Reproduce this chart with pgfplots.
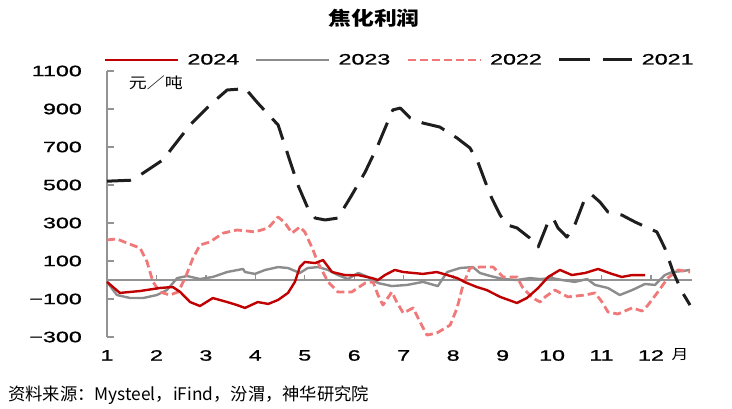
\documentclass[border=0pt]{standalone}
\usepackage{fontspec}
\usepackage{pgfplots}
\pgfplotsset{compat=1.18}
\setmainfont{Liberation Sans}
\newfontfamily\numfont[FakeStretch=1.55, FakeBold=1.2]{Liberation Sans}
\newfontfamily\cjk{Noto Sans CJK SC}
\newfontfamily\cjkwide[FakeStretch=1.2]{Noto Sans CJK SC}
\definecolor{c24}{HTML}{C00000}
\definecolor{c23}{HTML}{8C8C8C}
\definecolor{c22}{HTML}{F07878}
\definecolor{c21}{HTML}{1E1E1E}
\definecolor{axgray}{HTML}{939393}
\begin{document}
\begin{tikzpicture}
\useasboundingbox (0,0) rectangle (732pt,409pt);
\node[font=\cjkwide\bfseries\fontsize{19}{19}\selectfont] at (374pt,391pt) {焦化利润};
\node[anchor=west, inner sep=0pt, font=\cjk\fontsize{17.3}{17.3}\selectfont] at (8pt,14pt) {资料来源：Mysteel，iFind，汾渭，神华研究院};
\begin{axis}[
  at={(107pt,72pt)}, anchor=south west, scale only axis,
  width=585pt, height=266pt,
  xmin=1, xmax=12.83, ymin=-300, ymax=1100,
  axis y line=left, axis x line=bottom, axis line style={-},
  x axis line style={draw=none},
  y axis line style={draw=axgray, line width=1.4pt},
  xtick={1,2,3,4,5,6,7,8,9,10,11,12},
  xticklabels={1,2,3,4,5,6,7,8,9,10,11,12},
  ytick={-300,-100,100,300,500,700,900,1100},
  yticklabels={−300,−100,100,300,500,700,900,1100},
  tick align=inside,
  major tick length=7pt,
  ytick style={draw=axgray, line width=1.2pt},
  xtick style={draw=none},
  ticklabel style={font=\numfont\fontsize{15}{15}\selectfont, text=black},
  yticklabel style={inner sep=0pt, anchor=east, xshift=-25pt},
  xticklabel style={inner sep=0pt, anchor=north, yshift=-13pt},
  clip=false,
  legend columns=4,
  legend style={draw=none, fill=none, inner sep=0pt, outer sep=0pt,
    at={(-0.005,1.0414)}, anchor=west,
    font=\numfont\fontsize{15}{15}\selectfont,
    nodes={inner sep=0pt},
    /tikz/every odd column/.append style={column sep=8pt},
    /tikz/every even column/.append style={column sep=16pt}},
  legend cell align=left,
  legend image code/.code={\draw[#1] (0pt,0pt) -- (73pt,0pt);},
]
\addlegendimage{c24, line width=2.4pt}
\addlegendentry{2024}
\addlegendimage{c23, line width=2.4pt}
\addlegendentry{2023}
\addlegendimage{c22, line width=2.8pt, dash pattern=on 8pt off 4pt}
\addlegendentry{2022}
\addlegendimage{c21, line width=3pt, dash pattern=on 31pt off 13pt}
\addlegendentry{2021}

% zero line and small upward ticks
\addplot[axgray, line width=1.2pt, forget plot] coordinates {(1,0) (12.83,0)};
\addplot[axgray, line width=1.2pt, ycomb, forget plot] coordinates {(2,26)(3,26)(4,26)(5,26)(6,26)(7,26)(8,26)(9,26)(10,26)(11,26)(12,26)};

% 2023
\addplot[c23, line width=2.4pt, line join=round, forget plot] coordinates {
(1.00,-10)(1.20,-79)(1.47,-95)(1.73,-95)(2.01,-79)(2.21,-53)(2.42,10)(2.62,21)(2.88,5)(3.14,16)(3.43,42)(3.75,58)(3.79,42)(3.99,32)(4.20,53)(4.46,68)(4.66,63)(4.90,37)(5.06,63)(5.27,68)(5.47,53)(5.67,26)(5.87,5)(6.08,37)(6.28,16)(6.48,-16)(6.76,-32)(7.07,-26)(7.39,-10)(7.69,-32)(7.88,42)(8.14,63)(8.40,68)(8.54,37)(8.75,21)(9.01,5)(9.29,0)(9.55,10)(9.76,5)(10.00,10)(10.20,0)(10.46,-10)(10.71,5)(10.87,-26)(11.13,-42)(11.37,-79)(11.62,-53)(11.88,-21)(12.08,-26)(12.28,26)(12.43,42)(12.63,47)(12.79,53)
};
% 2022
\addplot[c22, line width=2.8pt, dash pattern=on 8pt off 4pt, line join=round, forget plot] coordinates {
(1.00,211)(1.20,216)(1.40,195)(1.67,168)(1.81,95)(1.93,-10)(2.07,-63)(2.27,-79)(2.44,-63)(2.58,10)(2.74,116)(2.88,184)(3.08,200)(3.35,247)(3.63,263)(3.83,258)(3.99,253)(4.26,274)(4.46,332)(4.60,300)(4.74,247)(4.90,279)(5.00,253)(5.15,168)(5.27,89)(5.47,-10)(5.67,-63)(5.95,-63)(6.22,-16)(6.38,-10)(6.48,-79)(6.58,-132)(6.76,-63)(6.86,-116)(6.99,-174)(7.19,-147)(7.33,-221)(7.47,-290)(7.67,-279)(7.94,-237)(8.08,-147)(8.20,-26)(8.34,63)(8.54,68)(8.81,68)(9.01,16)(9.29,16)(9.41,-42)(9.61,-95)(9.76,-116)(9.86,-89)(10.06,-53)(10.32,-89)(10.67,-79)(10.87,-68)(11.01,-116)(11.13,-168)(11.33,-179)(11.62,-147)(11.82,-163)(11.94,-132)(12.14,-63)(12.34,10)(12.55,53)(12.79,42)
};
% 2024
\addplot[c24, line width=2.4pt, line join=round, forget plot] coordinates {
(1.00,-10)(1.26,-68)(1.67,-58)(2.07,-42)(2.33,-37)(2.48,-63)(2.68,-116)(2.88,-137)(3.14,-95)(3.43,-116)(3.63,-132)(3.79,-147)(4.05,-116)(4.26,-126)(4.46,-105)(4.66,-68)(4.80,-10)(4.90,68)(5.00,95)(5.21,89)(5.37,105)(5.55,42)(5.81,26)(6.08,26)(6.36,10)(6.48,0)(6.62,26)(6.82,53)(6.99,42)(7.39,32)(7.67,42)(7.88,26)(8.08,10)(8.28,-16)(8.48,-37)(8.68,-53)(8.95,-89)(9.29,-121)(9.49,-95)(9.72,-42)(9.92,16)(10.16,53)(10.40,26)(10.67,37)(10.93,58)(11.21,32)(11.41,16)(11.62,26)(11.88,26)
};
% 2021
\addplot[c21, line width=3pt, dash pattern=on 24pt off 12pt, line join=round, forget plot] coordinates {
(1.00,520)(1.47,525)(1.57,535)(2.13,632)(2.68,816)(3.08,921)(3.43,1000)(3.69,1005)(3.79,1010)(4.05,931)(4.46,816)(4.66,658)(4.86,500)(5.06,379)(5.21,326)(5.41,316)(5.67,326)(5.95,447)(6.22,568)(6.48,710)(6.76,884)(6.78,895)(6.93,905)(7.13,853)(7.39,826)(7.73,805)(8.08,747)(8.34,695)(8.50,621)(8.75,447)(8.95,342)(9.09,290)(9.29,274)(9.55,221)(9.72,174)(9.92,305)(10.02,326)(10.12,274)(10.30,226)(10.46,290)(10.67,432)(10.81,447)(10.97,410)(11.13,358)(11.41,342)(11.68,305)(11.94,274)(12.12,253)(12.28,168)(12.45,42)(12.63,-63)(12.79,-132)
};
\node[anchor=west, inner sep=0pt, font=\cjkwide\fontsize{15}{15}\selectfont] at (axis description cs:0.037,0.955) {元／吨};
\node[anchor=north west, inner sep=0pt, font=\cjkwide\fontsize{14}{14}\selectfont] at (axis description cs:0.965,-0.043) {月};
\end{axis}
\end{tikzpicture}
\end{document}
